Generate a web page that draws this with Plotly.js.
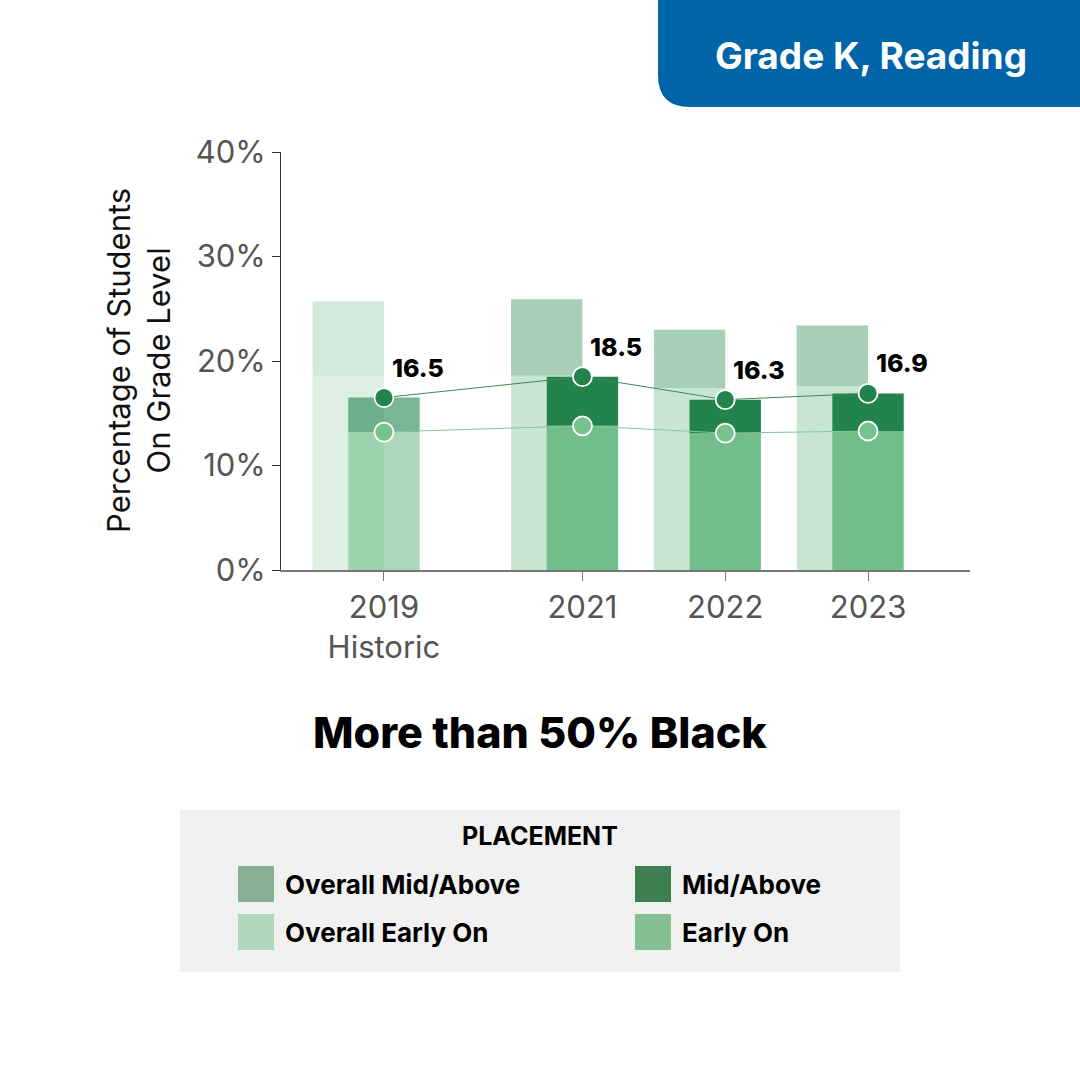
<!DOCTYPE html>
<html>
<head>
<meta charset="utf-8">
<script src="https://cdn.plot.ly/plotly-3.0.1.min.js"></script>
<style>html,body{margin:0;padding:0;background:#fff;}#chart{width:1080px;height:1080px;}</style>
</head>
<body>
<div id="chart"></div>
<script>
// ---- data ----
const categories = ["2019<br>Historic", "2021", "2022", "2023"];
const xPositions = [0, 1.39, 2.39, 3.39];
const overallEarlyOn = [18.6, 18.6, 17.4, 17.6];
const overallTotal = [25.7, 25.9, 23.0, 23.4];
const schoolEarlyOn = [13.2, 13.8, 13.1, 13.3];
const schoolTotal = [16.5, 18.5, 16.3, 16.9];
const yTickValues = [0, 10, 20, 30, 40];
const yTickLabels = ["0%", "10%", "20%", "30%", "40%"];
const legendLabels = ["Overall Mid/Above", "Overall Early On", "Mid/Above", "Early On"];
const legendColors = ["#87b093", "#b0d7ba", "#3e7e50", "#85bf93"];
const chartTitle = "More than 50% Black";
const headerText = "Grade K, Reading";
const yTitle = "Percentage of Students<br>On Grade Level";
const legendTitle = "PLACEMENT";

// ---- styling helpers ----
const L = 281, T = 152, PW = 689, PH = 418;
const px = x => (x - L) / PW;
const py = y => (T + PH - y) / PH;
const FONT = "Inter, 'Open Sans', sans-serif";

const histFlag = categories.map(c => c.indexOf("Historic") >= 0);
const pick = (hist, cur) => histFlag.map(h => h ? hist : cur);

const overallMid = overallTotal.map((v, i) => v - overallEarlyOn[i]);
const schoolMid = schoolTotal.map((v, i) => v - schoolEarlyOn[i]);

const traces = [
  {type: "bar", x: xPositions, y: overallEarlyOn, offset: -0.5, width: 0.5,
   marker: {color: pick("rgba(200,229,210,0.6)", "#c8e5d2"), line: {width: 0}}, hoverinfo: "skip"},
  {type: "bar", x: xPositions, y: overallMid, base: overallEarlyOn, offset: -0.5, width: 0.5,
   marker: {color: pick("rgba(168,207,183,0.5)", "#a8cfb7"), line: {width: 0}}, hoverinfo: "skip"},
  {type: "bar", x: xPositions, y: schoolEarlyOn, offset: -0.25, width: 0.5,
   marker: {color: pick("rgba(114,190,138,0.6)", "#72be8a"), line: {width: 0}}, hoverinfo: "skip"},
  {type: "bar", x: xPositions, y: schoolMid, base: schoolEarlyOn, offset: -0.25, width: 0.5,
   marker: {color: pick("rgba(34,131,77,0.6)", "#22834d"), line: {width: 0}}, hoverinfo: "skip"},
  {type: "scatter", mode: "lines+markers", x: xPositions, y: schoolEarlyOn,
   line: {color: "#86c59b", width: 1},
   marker: {size: 19, color: "#76c28f", line: {color: "#ffffff", width: 1.8}}, hoverinfo: "skip"},
  {type: "scatter", mode: "lines+markers", x: xPositions, y: schoolTotal,
   line: {color: "#3b8a5d", width: 1},
   marker: {size: 19, color: "#22834d", line: {color: "#ffffff", width: 1.8}}, hoverinfo: "skip"}
];

const annotations = [];
const paperNote = (xp, yp, text, font, extra) => Object.assign({
  x: px(xp), y: py(yp), xref: "paper", yref: "paper", text: text, showarrow: false,
  xanchor: "center", yanchor: "middle", font: font}, extra || {});

schoolTotal.forEach((v, i) => {
  annotations.push({x: xPositions[i], y: v, xref: "x", yref: "y", text: v.toFixed(1),
    showarrow: false, xshift: 34, yshift: 30, xanchor: "center", yanchor: "middle",
    font: {family: FONT, size: 25, color: "#000", weight: 800}});
});
annotations.push(paperNote(871, 55, headerText, {family: FONT, size: 37, color: "#ffffff", weight: 700}));
annotations.push(paperNote(540, 732, chartTitle, {family: FONT, size: 43, color: "#000", weight: 800}));
annotations.push(paperNote(138, 361, yTitle, {family: FONT, size: 31, color: "#111"}, {textangle: -90}));
annotations.push(paperNote(540, 836, legendTitle, {family: FONT, size: 25, color: "#000", weight: 700}));

const shapes = [
  {type: "path", xref: "paper", yref: "paper",
   path: `M ${px(658)},${py(0)} L ${px(1080)},${py(0)} L ${px(1080)},${py(107)} L ${px(690)},${py(107)} Q ${px(658)},${py(107)} ${px(658)},${py(75)} Z`,
   fillcolor: "#0064a8", line: {width: 0}},
  {type: "rect", xref: "paper", yref: "paper", x0: px(180), x1: px(900), y0: py(972), y1: py(810),
   fillcolor: "#f1f1f1", line: {width: 0}, layer: "below"}
];
const legendCols = [238, 238, 635, 635];
const legendRows = [884, 932, 884, 932];
legendLabels.forEach((lab, i) => {
  shapes.push({type: "rect", xref: "paper", yref: "paper",
    x0: px(legendCols[i]), x1: px(legendCols[i] + 36), y0: py(legendRows[i] + 18), y1: py(legendRows[i] - 18),
    fillcolor: legendColors[i], line: {width: 0}});
  annotations.push(paperNote(legendCols[i] + 45, legendRows[i], lab,
    {family: FONT, size: 26, color: "#000", weight: 700}, {xanchor: "left"}));
});

const layout = {
  width: 1080, height: 1080,
  margin: {l: L, r: 1080 - L - PW, t: T, b: 1080 - T - PH, pad: 0},
  paper_bgcolor: "#ffffff", plot_bgcolor: "#ffffff",
  barmode: "overlay", showlegend: false,
  xaxis: {range: [-0.721, 4.104], tickmode: "array", tickvals: xPositions, ticktext: categories,
    showline: true, linecolor: "#777", linewidth: 1.5, ticks: "outside", ticklen: 9, tickcolor: "#777",
    showgrid: false, zeroline: false, fixedrange: true,
    tickfont: {family: FONT, size: 31, color: "#555"}},
  yaxis: {range: [0, 40], tickmode: "array", tickvals: yTickValues, ticktext: yTickLabels,
    showline: true, linecolor: "#333", linewidth: 1, ticks: "outside", ticklen: 8, tickcolor: "#333",
    showgrid: false, zeroline: false, fixedrange: true,
    tickfont: {family: FONT, size: 31, color: "#555"}},
  annotations: annotations, shapes: shapes
};

Plotly.newPlot("chart", traces, layout, {displayModeBar: false, staticPlot: true});
</script>
</body>
</html>
